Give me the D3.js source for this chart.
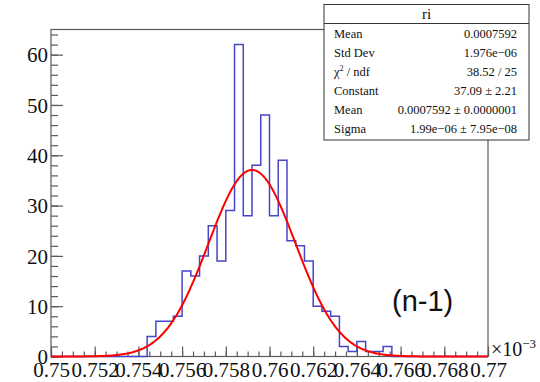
<!DOCTYPE html>
<html>
<head>
<meta charset="utf-8">
<script src="https://cdn.jsdelivr.net/npm/d3@7"></script>
<style>
  body { margin: 0; background: #fff; }
  text { font-family: "Liberation Serif", "Times New Roman", serif; fill: #111; }
</style>
</head>
<body>
<svg id="drawing_region"></svg>
<script>
// histogram: 50 bins between 0.75 and 0.77 (x10^-3)
const xRange = [0.75, 0.77];
const nBins = 50;
const counts = [0,0,0,0,0,0,0,0,0,0,
                0,4,7,7,8,17,16,20,26,19,
                29,62,28,38,48,28,39,23,22,19,
                10,9,8,2,1,3,1,1,2,0,
                0,0,0,0,0,0,0,0,0,0];
// gaussian fit parameters (from stat box)
const fitConstant = 37.09;
const fitMean = 0.7592;
const fitSigma = 0.00199;
// stat box
const statTitle = "ri";
const statLabels = ["Mean", "Std Dev", "CHI", "Constant", "Mean", "Sigma"];
const statValues = ["0.0007592", "1.976e\u221206", "38.52 / 25", "37.09 \u00b1 2.21",
                    "0.0007592 \u00b1 0.0000001", "1.99e\u221206 \u00b1 7.95e\u221208"];
const yMax = 65;

const config = {
    width: 540,
    height: 382,
    margin: {top: 29.5, right: 52, bottom: 25.5, left: 51}
};

const svg = d3.select('#drawing_region')
              .attr('width', config.width)
              .attr('height', config.height);

const inner_width = config.width - config.margin.left - config.margin.right;
const inner_height = config.height - config.margin.top - config.margin.bottom;

const chart = svg.append('g')
                 .attr('transform', `translate(${config.margin.left}, ${config.margin.top})`);

const xscale = d3.scaleLinear().domain(xRange).range([0, inner_width]);
const yscale = d3.scaleLinear().domain([0, yMax]).range([inner_height, 0]);

const axisColor = '#5a5a5a';

// frame
chart.append('rect')
     .attr('x', 0).attr('y', 0)
     .attr('width', inner_width).attr('height', inner_height)
     .attr('fill', 'none')
     .attr('stroke', axisColor)
     .attr('stroke-width', 1.2);

// x axis: major + minor ticks pointing inward
const xmajor = chart.append('g')
    .attr('transform', `translate(0, ${inner_height})`)
    .call(d3.axisBottom(xscale)
            .tickValues(xscale.ticks(10))
            .tickSize(-10)
            .tickPadding(5)
            .tickFormat(d => String(+d.toFixed(3))));
const xminor = chart.append('g')
    .attr('transform', `translate(0, ${inner_height})`)
    .call(d3.axisBottom(xscale)
            .tickValues(xscale.ticks(50))
            .tickSize(-5)
            .tickFormat(''));

// y axis
const ymajor = chart.append('g')
    .call(d3.axisLeft(yscale)
            .tickValues(yscale.ticks(7))
            .tickSize(-12)
            .tickPadding(3));
const yminor = chart.append('g')
    .call(d3.axisLeft(yscale)
            .tickValues(d3.range(0, yMax, 2))
            .tickSize(-7)
            .tickFormat(''));

[xmajor, xminor, ymajor, yminor].forEach(g => {
    g.select('.domain').remove();
    g.selectAll('line').attr('stroke', axisColor).attr('stroke-width', 1.2);
});
xmajor.selectAll('text')
      .attr('font-size', 21)
      .attr('font-family', '"Liberation Serif", serif')
      .attr('fill', '#111')
      .attr('dy', '0.72em');
ymajor.selectAll('text')
      .attr('font-size', 21)
      .attr('font-family', '"Liberation Serif", serif')
      .attr('fill', '#111')
      .attr('dy', '0.34em');

// exponent label
const expo = svg.append('text')
    .attr('x', config.margin.left + inner_width + 3)
    .attr('y', config.margin.top + inner_height - 1)
    .attr('font-size', 20);
expo.append('tspan').text('\u00d710');
expo.append('tspan').attr('font-size', 13).attr('dy', -8).text('\u22123');

// histogram outline
const binWidth = (xRange[1] - xRange[0]) / nBins;
const steps = [];
counts.forEach((c, i) => {
    steps.push([xRange[0] + i * binWidth, c]);
    steps.push([xRange[0] + (i + 1) * binWidth, c]);
});
chart.append('path')
     .datum(steps)
     .attr('fill', 'none')
     .attr('stroke', '#4646c8')
     .attr('stroke-width', 1.5)
     .attr('d', d3.line().x(d => xscale(d[0])).y(d => yscale(d[1])));

// gaussian fit curve
const fitX = d3.range(0, 401).map(i => xRange[0] + i * (xRange[1] - xRange[0]) / 400);
const gauss = x => fitConstant * Math.exp(-0.5 * Math.pow((x - fitMean) / fitSigma, 2));
chart.append('path')
     .datum(fitX)
     .attr('fill', 'none')
     .attr('stroke', '#ff0000')
     .attr('stroke-width', 2)
     .attr('d', d3.line().x(d => xscale(d)).y(d => yscale(gauss(d))));

// (n-1) label
svg.append('text')
   .attr('x', 392)
   .attr('y', 311)
   .attr('font-size', 29)
   .style('font-family', '"Liberation Sans", Arial, sans-serif')
   .text('(n-1)');

// stat box
const box = {x: 324, y: 4.5, w: 205, h: 135.5, titleH: 19};
const stat = svg.append('g');
stat.append('rect')
    .attr('x', box.x).attr('y', box.y)
    .attr('width', box.w).attr('height', box.h)
    .attr('fill', '#fff')
    .attr('stroke', '#333')
    .attr('stroke-width', 1);
stat.append('line')
    .attr('x1', box.x).attr('x2', box.x + box.w)
    .attr('y1', box.y + box.titleH).attr('y2', box.y + box.titleH)
    .attr('stroke', '#333');
stat.append('text')
    .attr('x', box.x + box.w / 2)
    .attr('y', box.y + 14.5)
    .attr('text-anchor', 'middle')
    .attr('font-size', 15)
    .text(statTitle);

const rowY = i => box.y + box.titleH + 14 + i * 19.1;
statLabels.forEach((lab, i) => {
    const t = stat.append('text')
        .attr('x', box.x + 10)
        .attr('y', rowY(i))
        .attr('font-size', 12.5);
    if (lab === 'CHI') {
        t.append('tspan').text('\u03c7');
        t.append('tspan').attr('font-size', 8).attr('dy', -5).text('2');
        t.append('tspan').attr('dy', 5).text(' / ndf');
    } else {
        t.text(lab);
    }
});
statValues.forEach((v, i) => {
    stat.append('text')
        .attr('x', box.x + box.w - 12)
        .attr('y', rowY(i))
        .attr('text-anchor', 'end')
        .attr('font-size', 12.5)
        .text(v);
});
</script>
</body>
</html>
